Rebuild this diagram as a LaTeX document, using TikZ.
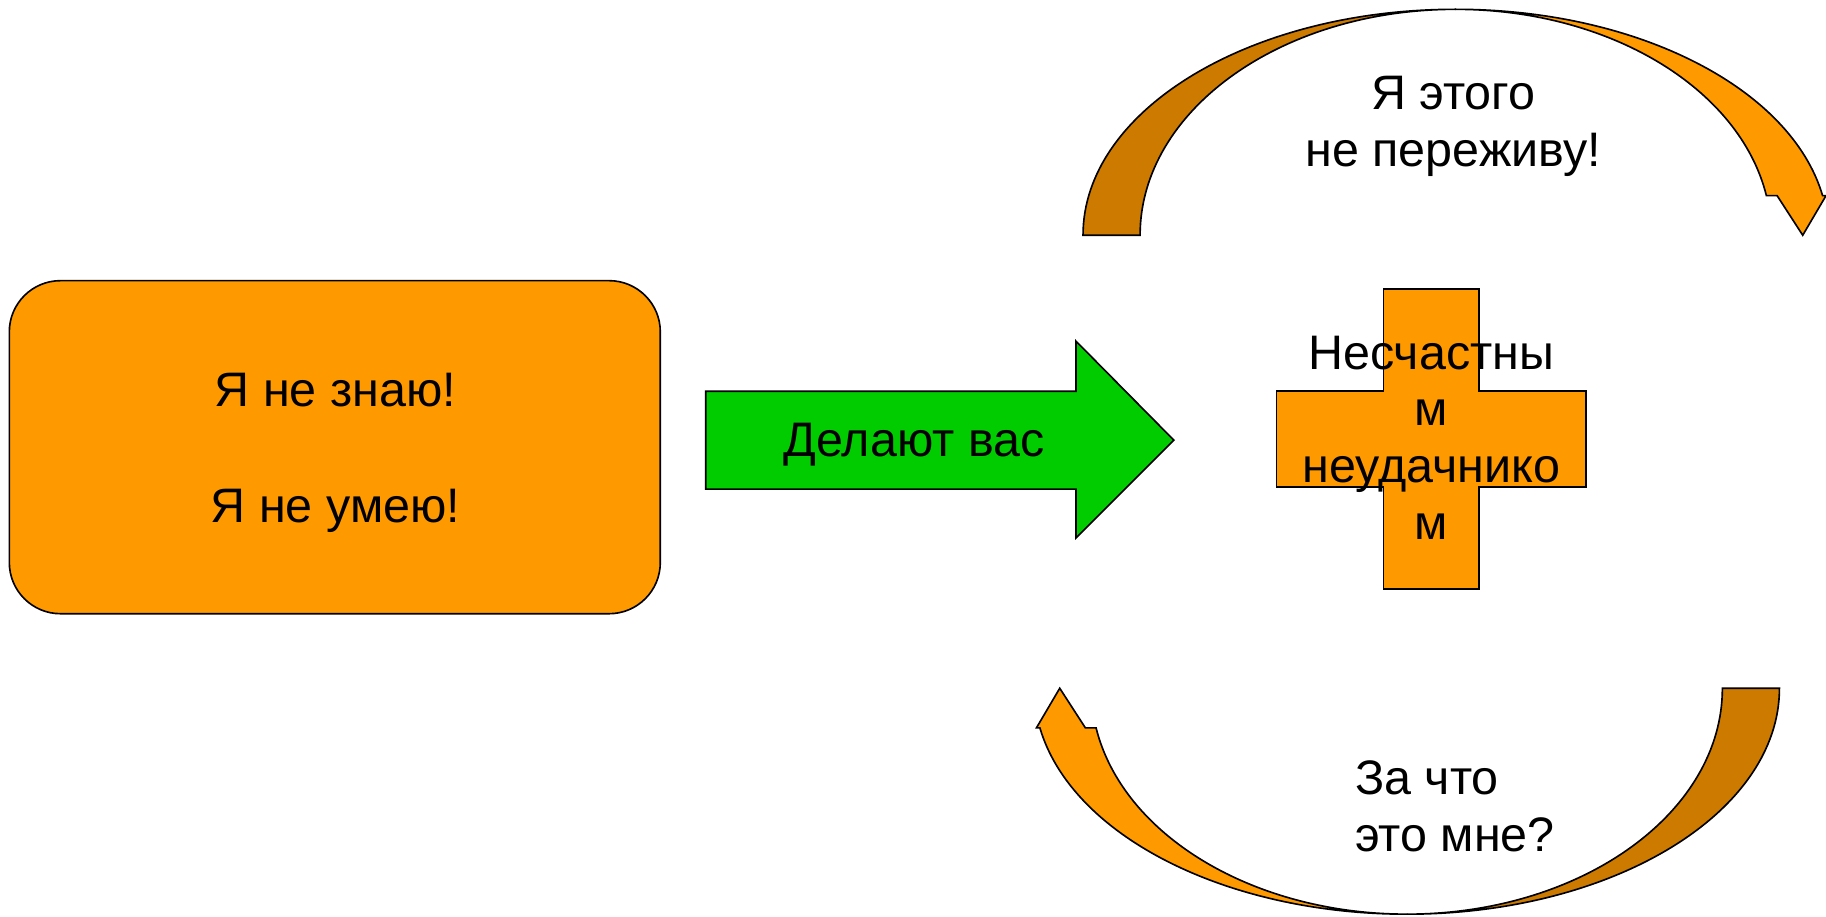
\documentclass[tikz,border=0pt]{standalone}
\usepackage{fontspec}
\setmainfont{Liberation Sans}
\definecolor{amber}{HTML}{FF9900}
\definecolor{amberdark}{HTML}{CC7A00}
\definecolor{leaf}{HTML}{00CC00}

\begin{document}
\begin{tikzpicture}[x = 0.5pt, y = -0.5pt, line width = 0.7pt,
      words/.style = {font = \fontsize{20.8}{24.3}\selectfont, inner sep = 0pt, align = center},
      plate/.style = {draw, fill = amber}]
      \useasboundingbox (0,0) rectangle (1568,786.6);
      \node[plate, rounded corners = 22pt, minimum width = 279.5pt, minimum height = 143pt] (box) at (287.5,384) {};
      \node[words, anchor = base] (know) at (288,349) {Я не знаю!};
      \node[words, anchor = base] (cant) at (288,449) {Я не умею!};
      \draw[fill = leaf] (606,336) -- (924,336) -- (924,293) -- (1008,378) -- (924,462) -- (924,420) -- (606,420) -- cycle;
      \node[words, anchor = base] (make) at (785,392) {Делают вас};
      \draw[plate] (1188,248) -- (1270,248) -- (1270,336) -- (1362,336) -- (1362,418) -- (1270,418)
        -- (1270,506) -- (1188,506) -- (1188,418) -- (1096,418) -- (1096,336) -- (1188,336) -- cycle;
      \node[words, anchor = base] (loser) at (1229,463) {Несчастны\\м\\неудачнико\\м};
      \foreach \ang in {0,180} {
        \begin{scope}[rotate around = {\ang:(1229,396.5)}]
          \draw[fill = amberdark] (930,202) arc[start angle = 180, end angle = 270, x radius = 320, y radius = 194]
            arc[start angle = 270, end angle = 180, x radius = 271, y radius = 194] -- cycle;
          \draw[plate] (1250,8) arc[start angle = 270, end angle = 349.9, x radius = 320, y radius = 194]
            -- (1568,168) -- (1548,202) -- (1526,168) -- (1516.8,168)
            arc[start angle = 349.9, end angle = 270, x radius = 271, y radius = 194] -- cycle;
        \end{scope}
      }
      \node[words, anchor = base] (survive) at (1248,143) {Я этого\\не переживу!};
      \node[words, align = left, anchor = base west] (why) at (1163,731) {За что\\это мне?};
\end{tikzpicture}
\end{document}
